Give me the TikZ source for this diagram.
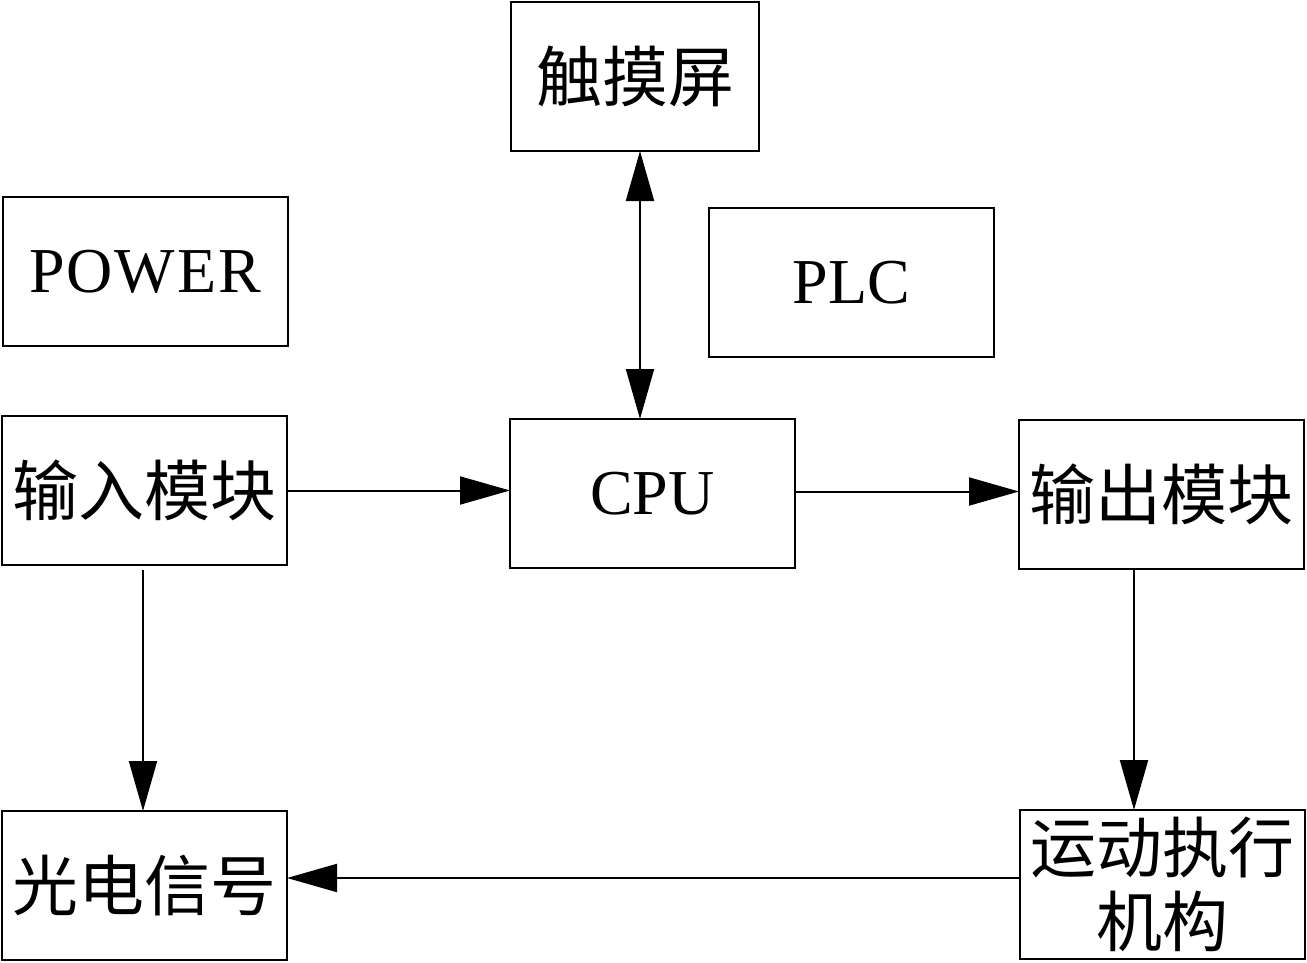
\documentclass[tikz,border=0pt]{standalone}
\usepackage{fontspec}
\setmainfont{Liberation Serif}
\newfontfamily\widelat[LetterSpace=3]{Liberation Serif}
\newfontfamily\cjk{Noto Sans CJK SC}
\usetikzlibrary{arrows.meta}
\begin{document}
\begin{tikzpicture}[x=1pt,y=-1pt,
  box/.style={draw, line width=2pt, rectangle, minimum width=285pt, minimum height=149pt, inner sep=0pt, outer sep=0pt},
  cjktext/.style={font=\cjk\fontsize{66}{74}\selectfont},
  lattext/.style={font=\fontsize{64}{74}\selectfont},
  conn/.style={line width=2pt, -{Triangle[length=50pt,width=28pt]}},
  biconn/.style={line width=2pt, {Triangle[length=50pt,width=28pt]}-{Triangle[length=50pt,width=28pt]}}
]
\useasboundingbox (0,0) rectangle (1307,963);
\node[box, cjktext, minimum width=248pt] (touch) at (635,76.5) {触摸屏};
\node[box, font=\widelat\fontsize{64}{74}\selectfont] (power) at (145,271.5) {POWER};
\node[box, lattext] (plc) at (851.5,282.5) {PLC};
\node[box, cjktext] (in) at (144.5,490.5) {输入模块};
\node[box, lattext] (cpu) at (652.5,493.5) {CPU};
\node[box, cjktext] (out) at (1161.5,494.5) {输出模块};
\node[box, cjktext] (gd) at (144.5,885.5) {光电信号};
\node[box, cjktext, align=center] (motion) at (1162.5,884.5) {运动执行\\机构};

\draw[biconn] ([xshift=5pt]touch.south) -- ([xshift=5pt]touch.south |- cpu.north);
\draw[conn] (in.east) -- (in.east -| cpu.west);
\draw[conn] ([yshift=2pt]cpu.east) -- ([yshift=2pt]cpu.east -| out.west);
\draw[conn] ([xshift=-1.5pt,yshift=-5pt]in.south) -- ([xshift=-1.5pt]in.south |- gd.north);
\draw[conn] ([xshift=-27.5pt]out.south) -- ([xshift=-27.5pt]out.south |- motion.north);
\draw[conn] ([yshift=6.5pt]motion.west) -- ([yshift=6.5pt]motion.west -| gd.east);
\end{tikzpicture}
\end{document}
